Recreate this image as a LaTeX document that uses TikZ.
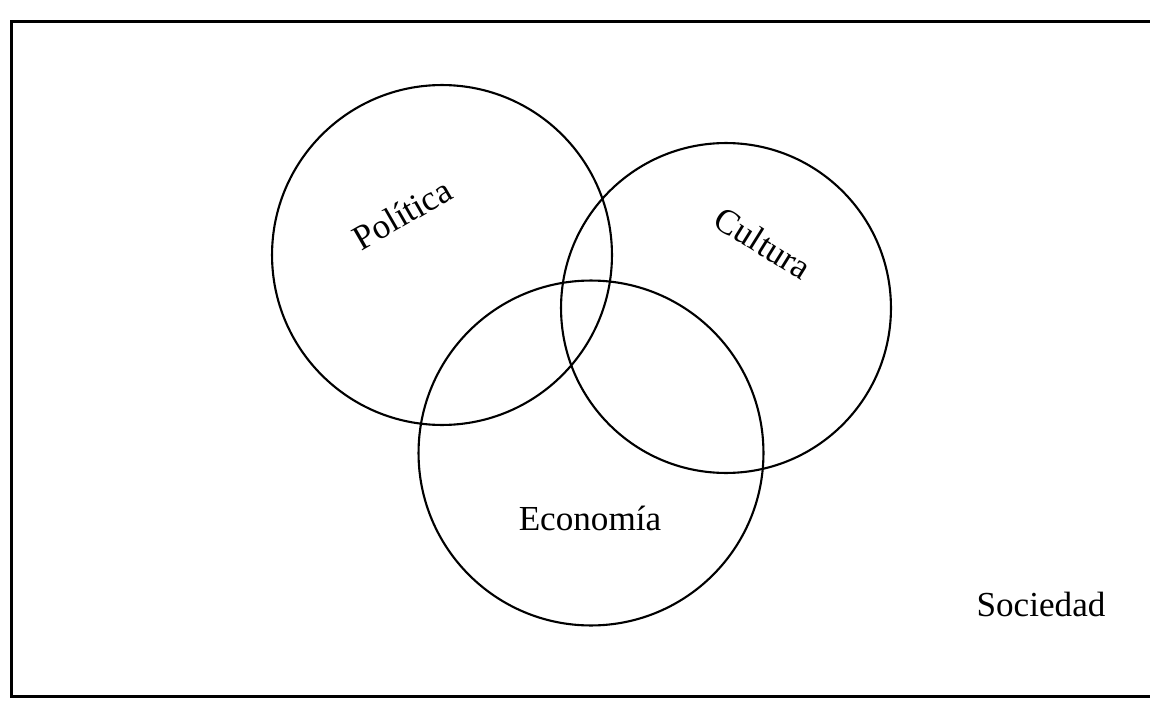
\documentclass[tikz,border=0pt]{standalone}
\usepackage{fontspec}
\setmainfont{Liberation Serif}
\usetikzlibrary{positioning}

\begin{document}
\begin{tikzpicture}[x=0.02cm,y=-0.02cm,
    set/.style={circle, draw, line width=1.2pt, minimum size=6.8cm, inner sep=0pt},
    lab/.style={font=\fontsize{20}{23}\selectfont}]
    \useasboundingbox (0,0) rectangle (1150,713);
    \node[draw, line width=1.6pt, minimum width=22.84cm, minimum height=13.5cm, anchor=north west] (frame) at (10,20) {};
    \node[set] (pol) at (442,255) {};
    \node[set, minimum size=6.6cm] (cul) at (726,308) {};
    \node[set, minimum size=6.9cm] (eco) at (591,453) {};
    \node[lab, rotate=30] (lpol) at (402,214) {Política};
    \node[lab, rotate=-32] (lcul) at (763,243) {Cultura};
    \node[lab] (leco) at (590,518) {Economía};
    \node[lab] (lsoc) at (1041,604) {Sociedad};
\end{tikzpicture}
\end{document}
